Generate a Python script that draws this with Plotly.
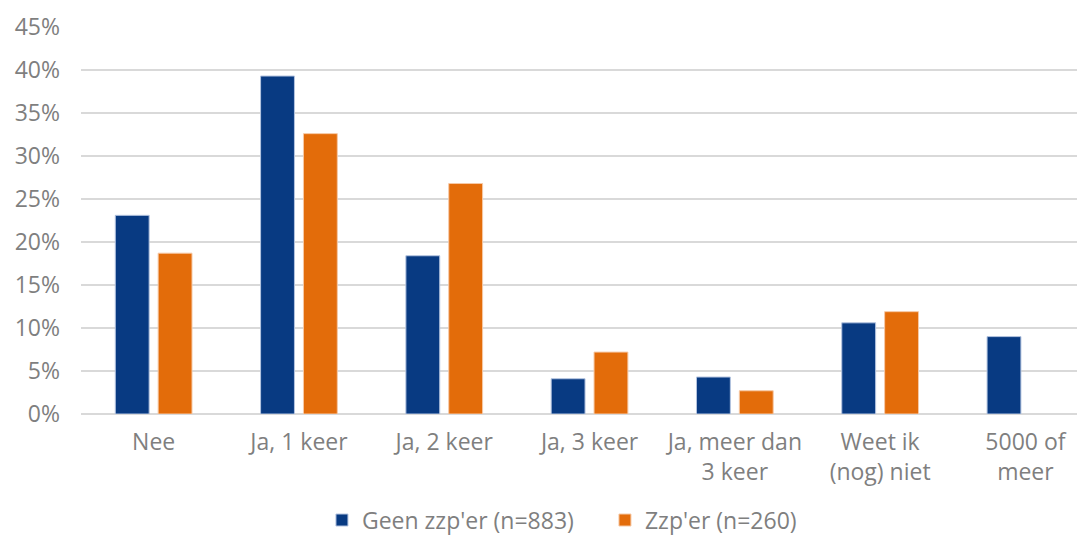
import plotly.graph_objects as go

categories = ["Nee", "Ja, 1 keer", "Ja, 2 keer", "Ja, 3 keer", "Ja, meer dan<br>3 keer",
              "Weet ik<br>(nog) niet", "5000 of<br>meer"]
geen_zzp = [0.231, 0.393, 0.184, 0.041, 0.043, 0.106, 0.090]
zzp = [0.187, 0.326, 0.268, 0.072, 0.027, 0.119, None]
series_names = ["Geen zzp'er (n=883)", "Zzp'er (n=260)"]
tick_vals = [0, 0.05, 0.10, 0.15, 0.20, 0.25, 0.30, 0.35, 0.40, 0.45]
tick_text = ["0%", "5%", "10%", "15%", "20%", "25%", "30%", "35%", "40%", "45%"]

font_fam = "'Open Sans', Lato, sans-serif"
grey = "#7f7f7f"
fs = 23

fig = go.Figure()
fig.add_trace(go.Bar(x=categories, y=geen_zzp, name=series_names[0],
                     marker=dict(color="#083A82", line=dict(color="#b4c4e0", width=1))))
fig.add_trace(go.Bar(x=categories, y=zzp, name=series_names[1],
                     marker=dict(color="#E36C0A", line=dict(color="#f6c9a6", width=1))))

fig.update_layout(
    width=1077, height=529,
    margin=dict(l=73, r=0, t=19, b=123),
    paper_bgcolor="white", plot_bgcolor="white",
    barmode="group", bargap=0.41, bargroupgap=0.21,
    font=dict(family=font_fam, size=fs, color=grey),
    showlegend=True,
    legend=dict(orientation="h", x=0.24, xanchor="left", yref="container",
                y=0.032, yanchor="middle", entrywidth=238, entrywidthmode="pixels",
                font=dict(size=fs, color=grey), traceorder="normal"),
    xaxis=dict(showgrid=False, showline=False, ticks="", automargin=False,
               range=[-0.5, 6.41],
               ticklabelstandoff=12, tickfont=dict(size=fs, color=grey)),
    yaxis=dict(range=[0, 0.45], tickvals=tick_vals, ticktext=tick_text, automargin=False,
               showgrid=True, gridcolor="#d9d9d9", gridwidth=1.5,
               zeroline=True, zerolinecolor="#d9d9d9", zerolinewidth=1.5,
               showline=False, ticks="", ticklabelstandoff=20,
               tickfont=dict(size=fs, color=grey)),
)

fig.write_html("out.html")
